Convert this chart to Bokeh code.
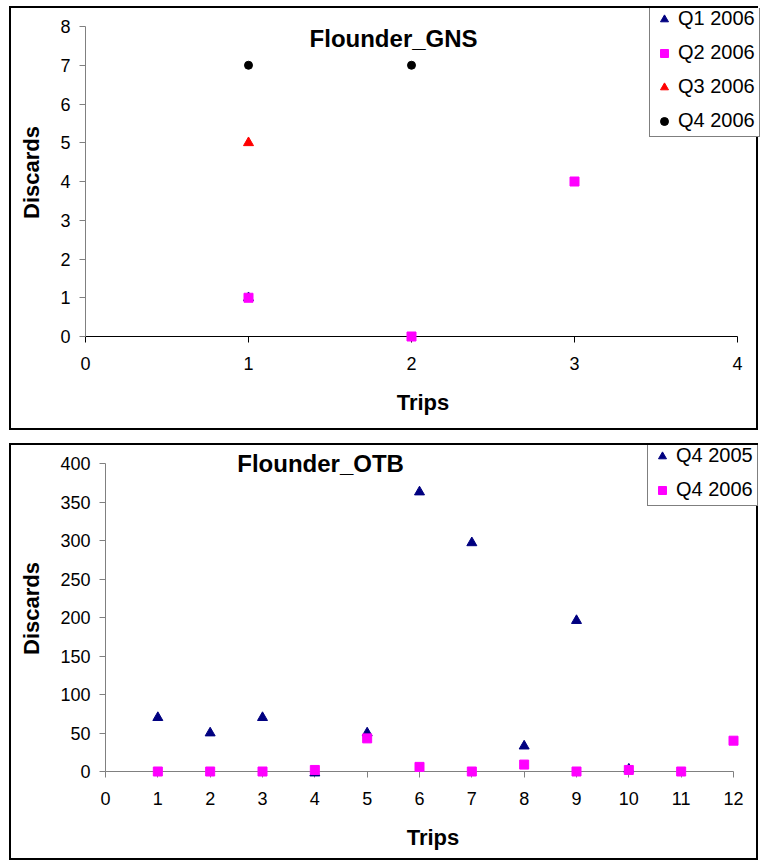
from bokeh.plotting import figure
from bokeh.models import Range1d, FixedTicker, Legend, LegendItem, Label
from bokeh.embed import file_html
from bokeh.resources import INLINE

FONT = "Liberation Sans"

# ---------------- data: Flounder_GNS ----------------
gns_title = "Flounder_GNS"
gns_q1_trips = [1]
gns_q1_discards = [1]
gns_q2_trips = [1, 2, 3]
gns_q2_discards = [1, 0, 4]
gns_q3_trips = [1]
gns_q3_discards = [5]
gns_q4_trips = [1, 2]
gns_q4_discards = [7, 7]
gns_xticks = [0, 1, 2, 3, 4]
gns_yticks = [0, 1, 2, 3, 4, 5, 6, 7, 8]

# ---------------- data: Flounder_OTB ----------------
otb_title = "Flounder_OTB"
otb_2005_trips = [1, 2, 3, 4, 5, 6, 7, 8, 9, 10]
otb_2005_discards = [70, 50, 70, -2, 50, 363, 297, 33, 196, 3]
otb_2006_trips = [1, 2, 3, 4, 5, 6, 7, 8, 9, 10, 11, 12]
otb_2006_discards = [0, 0, 0, 2, 43, 6, 0, 9, 0, 2, 0, 40]
otb_xticks = list(range(0, 13))
otb_yticks = [0, 50, 100, 150, 200, 250, 300, 350, 400]

NAVY = "#000080"
MAGENTA = "#FF00FF"
RED = "#FF0000"
BLACK = "#000000"


def make_fig(W, H, mbl, mbb, x_range, y_range, xticks, yticks, xaxis_color, margin):
    p = figure(width=W, height=H, x_range=x_range, y_range=y_range,
               output_backend="svg", toolbar_location=None,
               min_border_left=mbl, min_border_right=0,
               min_border_top=0, min_border_bottom=mbb)
    p.styles = {"border": "2px solid black", "margin": margin}
    p.grid.visible = False
    p.outline_line_color = None
    p.background_fill_color = "white"
    p.border_fill_color = "white"
    p.xaxis.ticker = FixedTicker(ticks=xticks)
    p.yaxis.ticker = FixedTicker(ticks=yticks)
    p.xaxis.bounds = (xticks[0], xticks[-1])
    p.yaxis.bounds = (yticks[0], yticks[-1])
    p.xaxis.axis_label = "Trips"
    p.yaxis.axis_label = "Discards"
    for ax in (p.xaxis, p.yaxis):
        ax.major_tick_in = 0
        ax.major_tick_out = 6
        ax.minor_tick_line_color = None
        ax.major_label_text_font = FONT
        ax.major_label_text_font_size = "18px"
        ax.major_label_text_color = "black"
        ax.axis_label_text_font = FONT
        ax.axis_label_text_font_style = "bold"
        ax.axis_label_text_font_size = "22px"
        ax.axis_label_text_color = "black"
    p.yaxis.axis_line_color = "#808080"
    p.yaxis.major_tick_line_color = "#808080"
    p.xaxis.axis_line_color = xaxis_color
    p.xaxis.major_tick_line_color = xaxis_color
    p.yaxis.major_label_standoff = 9
    p.xaxis.major_label_standoff = 14
    p.yaxis.axis_label_standoff = 13
    p.xaxis.axis_label_standoff = 17
    return p


def make_legend(items, vx, vy):
    return Legend(items=items, location=(vx, vy), padding=4, spacing=11,
                  glyph_width=20, glyph_height=22, label_height=22,
                  label_standoff=4, label_text_font=FONT,
                  label_text_font_size="20px", label_text_color="black",
                  border_line_color="black",
                  border_line_width=1, background_fill_color="white",
                  background_fill_alpha=1, margin=0)


# ---------------- top chart ----------------
# frame: left 74 px in, bottom 96 px up; axis area 652 x 310 px
xmax1 = gns_xticks[-1]
ymax1 = gns_yticks[-1]
x_end1 = xmax1 * (652 + 23) / 652.0
y_end1 = ymax1 * (310 + 18) / 310.0
p1 = make_fig(749, 424, 74, 96, Range1d(0, x_end1), Range1d(0, y_end1),
              gns_xticks, gns_yticks, "#000000", "6px 0 0 9px")

r1 = p1.scatter(gns_q1_trips, gns_q1_discards, marker="triangle", size=10,
                fill_color=NAVY, line_color=NAVY, level="overlay")
r2 = p1.scatter(gns_q2_trips, gns_q2_discards, marker="square", size=9,
                fill_color=MAGENTA, line_color=MAGENTA, level="overlay")
r3 = p1.scatter(gns_q3_trips, gns_q3_discards, marker="triangle", size=10,
                fill_color=RED, line_color=RED, level="overlay")
r4 = p1.scatter(gns_q4_trips, gns_q4_discards, marker="circle", size=8,
                fill_color=BLACK, line_color=BLACK, level="overlay")

p1.add_layout(Label(x=1.89, y=7.7, text=gns_title, text_font=FONT,
                    text_font_style="bold", text_font_size="24px",
                    text_color="black",
                    text_align="center", text_baseline="middle"))
p1.add_layout(make_legend([
    LegendItem(label="Q1 2006", renderers=[r1]),
    LegendItem(label="Q2 2006", renderers=[r2]),
    LegendItem(label="Q3 2006", renderers=[r3]),
    LegendItem(label="Q4 2006", renderers=[r4]),
], 564, 199), "center")

# ---------------- bottom chart ----------------
# frame: left 94 px in, bottom 91 px up; axis area 628 x 308 px
xmax2 = otb_xticks[-1]
ymax2 = otb_yticks[-1]
x_end2 = xmax2 * (628 + 27) / 628.0
y_end2 = ymax2 * (308 + 18) / 308.0
p2 = make_fig(749, 417, 94, 91, Range1d(0, x_end2), Range1d(0, y_end2),
              otb_xticks, otb_yticks, "#808080", "13px 0 0 9px")

s1 = p2.scatter(otb_2005_trips, otb_2005_discards, marker="triangle", size=10,
                fill_color=NAVY, line_color=NAVY, level="overlay")
s2 = p2.scatter(otb_2006_trips, otb_2006_discards, marker="square", size=9,
                fill_color=MAGENTA, line_color=MAGENTA, level="overlay")

p2.add_layout(Label(x=4.11, y=400, text=otb_title, text_font=FONT,
                    text_font_style="bold", text_font_size="24px",
                    text_color="black",
                    text_align="center", text_baseline="middle"))
p2.add_layout(make_legend([
    LegendItem(label="Q4 2005", renderers=[s1]),
    LegendItem(label="Q4 2006", renderers=[s2]),
], 542, 265), "center")

open("out.html", "w").write(file_html([p1, p2], INLINE))
